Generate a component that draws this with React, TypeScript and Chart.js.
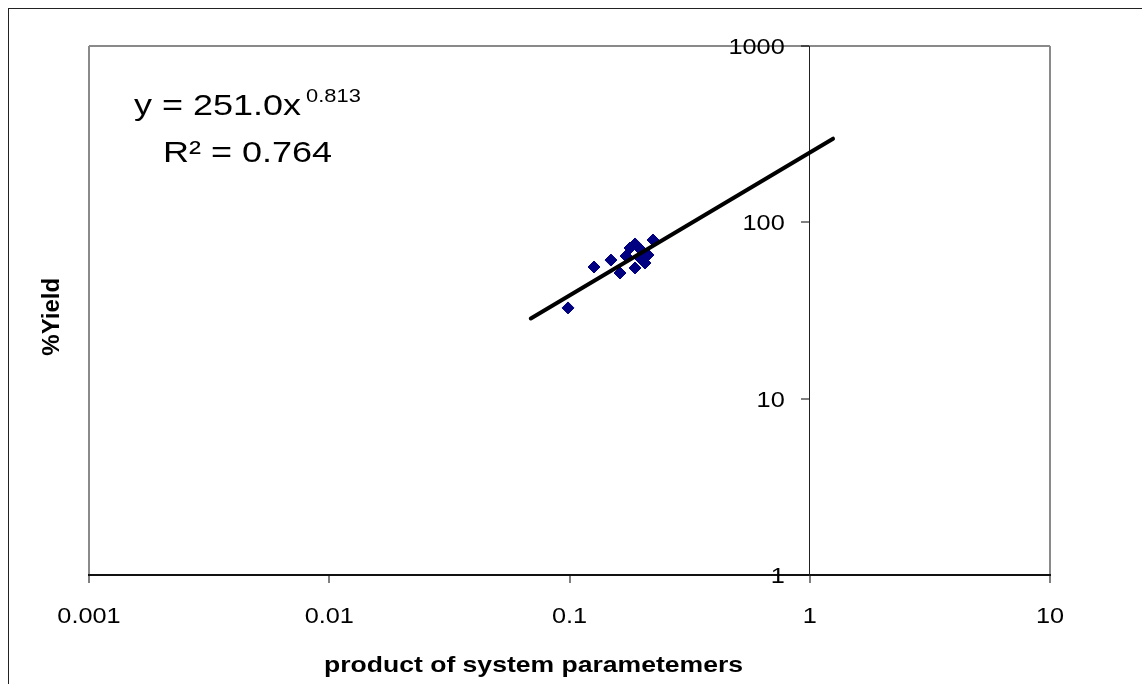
import React, { useEffect, useRef } from 'react';
import { Chart, registerables } from 'chart.js';

Chart.register(...registerables);

// ---- data ----
const productValues = [0.0986, 0.1265, 0.1488, 0.1623, 0.1786, 0.1874, 0.1984, 0.2226, 0.1874, 0.2062, 0.2122, 0.1719, 0.1965];
const yieldValues = [32.7, 55.8, 61.1, 51.6, 71.5, 75.4, 69.7, 79.4, 55.1, 58.8, 65.3, 64.4, 62.8];
const trendX = [0.069, 1.25];
const trendY = [28.5, 298];
const xTicks = [0.001, 0.01, 0.1, 1, 10];
const xTickLabels = ['0.001', '0.01', '0.1', '1', '10'];
const yTicks = [1, 10, 100, 1000];
const yTickLabels = ['1', '10', '100', '1000'];
const xTitle = 'product of system parametemers';
const yTitle = '%Yield';
const eqMain = 'y = 251.0x';
const eqExp = '0.813';
const eqR2 = 'R² = 0.764';

const FONT = '"Liberation Sans", Arial, sans-serif';

function stretchedText(ctx: CanvasRenderingContext2D, text: string, x: number, y: number, font: string, align: CanvasTextAlign, sx: number) {
  ctx.save();
  ctx.font = font;
  ctx.textAlign = align;
  ctx.textBaseline = 'alphabetic';
  ctx.fillStyle = '#000';
  ctx.translate(x, y);
  ctx.scale(sx, 1);
  ctx.fillText(text, 0, 0);
  ctx.restore();
}

const textPlugin = {
  id: 'textPlugin',
  afterDraw(chart: any) {
    const { ctx, chartArea } = chart;
    const xs = chart.scales.x;
    const ys = chart.scales.y;
    const tickFont = `22px ${FONT}`;
    xTicks.forEach((v, i) => {
      stretchedText(ctx, xTickLabels[i], xs.getPixelForValue(v), chartArea.bottom + 48, tickFont, 'center', 1.15);
    });
    const axisX = xs.getPixelForValue(1);
    yTicks.forEach((v, i) => {
      stretchedText(ctx, yTickLabels[i], axisX - 25, ys.getPixelForValue(v) + 8, tickFont, 'right', 1.15);
    });
    // x title
    stretchedText(ctx, xTitle, 524.5, chartArea.bottom + 96.5, `bold 22.5px ${FONT}`, 'center', 1.18);
    // y title
    ctx.save();
    ctx.font = `bold 24px ${FONT}`;
    ctx.fillStyle = '#000';
    ctx.textAlign = 'center';
    ctx.textBaseline = 'alphabetic';
    ctx.translate(50.3, 307.8);
    ctx.rotate(-Math.PI / 2);
    ctx.fillText(yTitle, 0, 0);
    ctx.restore();
    // equation
    ctx.save();
    ctx.font = `30px ${FONT}`;
    const w = ctx.measureText(eqMain).width * 1.2;
    ctx.restore();
    stretchedText(ctx, eqMain, 125, 106, `30px ${FONT}`, 'left', 1.2);
    stretchedText(ctx, eqExp, 125 + w + 5, 92.7, `19px ${FONT}`, 'left', 1.15);
    stretchedText(ctx, eqR2, 154, 152.7, `30px ${FONT}`, 'left', 1.2);
  },
};

export default function App() {
  const ref = useRef<HTMLCanvasElement | null>(null);

  useEffect(() => {
    if (!ref.current) return;
    const points = productValues.map((x, i) => ({ x, y: yieldValues[i] }));
    const trend = trendX.map((x, i) => ({ x, y: trendY[i] }));
    const chart = new Chart(ref.current, {
      type: 'scatter',
      data: {
        datasets: [
          {
            label: 'Power fit',
            data: trend,
            showLine: true,
            borderColor: '#000',
            backgroundColor: '#000',
            borderWidth: 4,
            borderCapStyle: 'round',
            pointRadius: 0,
          } as any,
          {
            label: '%Yield',
            data: points,
            pointStyle: 'rectRot',
            pointRadius: 6,
            pointBorderWidth: 1,
            backgroundColor: '#000080',
            borderColor: '#000080',
          } as any,
        ],
      },
      options: {
        animation: false,
        responsive: false,
        layout: { padding: { left: 80, right: 92, top: 37, bottom: 0 } },
        plugins: {
          legend: { display: false },
          tooltip: { enabled: false },
          title: { display: false },
        },
        scales: {
          x: {
            type: 'logarithmic',
            min: 0.001,
            max: 10,
            position: 'bottom',
            afterBuildTicks: (axis: any) => {
              axis.ticks = xTicks.map((v) => ({ value: v }));
            },
            afterFit: (axis: any) => {
              axis.height = 109;
            },
            ticks: { display: false },
            grid: {
              color: (c: any) => (c.tick && (c.tick.value === 0.001 || c.tick.value === 10) ? '#8a8a8a' : 'rgba(0,0,0,0)'),
              lineWidth: 2,
              tickColor: '#000',
              tickWidth: 1,
              tickLength: 8,
              drawTicks: true,
              drawOnChartArea: true,
            },
            border: { display: true, color: '#111', width: 2 },
          },
          y: {
            type: 'logarithmic',
            min: 1,
            max: 1000,
            position: { x: 1 },
            afterBuildTicks: (axis: any) => {
              axis.ticks = yTicks.map((v) => ({ value: v }));
            },
            ticks: { display: false },
            grid: {
              color: (c: any) => (c.tick && c.tick.value === 1000 ? '#8a8a8a' : 'rgba(0,0,0,0)'),
              lineWidth: 2,
              tickColor: '#000',
              tickWidth: 1,
              tickLength: 8,
              drawTicks: true,
              drawOnChartArea: true,
            },
            border: { display: true, color: '#222', width: 1 },
          },
        } as any,
      },
      plugins: [textPlugin],
    });
    return () => chart.destroy();
  }, []);

  return (
    <div
      style={{
        position: 'fixed',
        left: 8,
        top: 8,
        width: 1134,
        height: 676,
        borderLeft: '1px solid #222',
        borderTop: '1px solid #222',
        boxSizing: 'border-box',
        background: '#fff',
      }}
    >
      <canvas ref={ref} width={1133} height={675} style={{ display: 'block' }} />
    </div>
  );
}
